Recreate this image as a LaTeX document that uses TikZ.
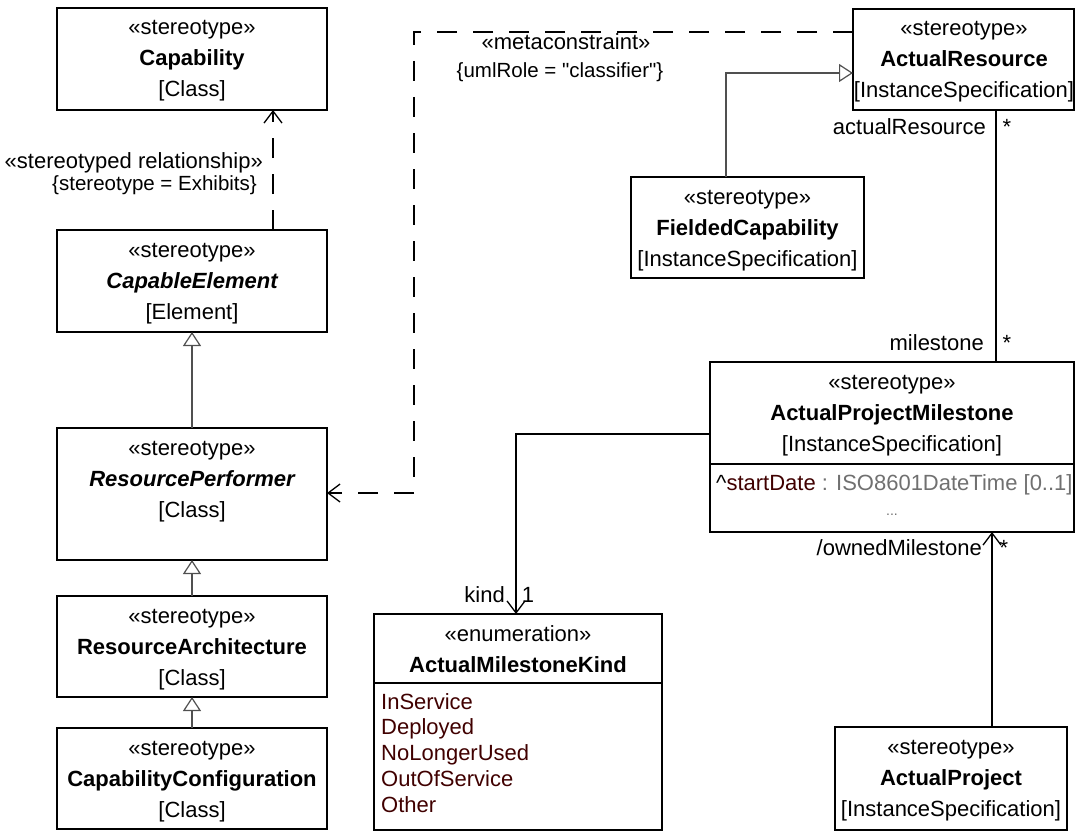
\documentclass[tikz,border=0pt]{standalone}
\usepackage{fontspec}
\setmainfont{Liberation Sans}
\usetikzlibrary{arrows.meta}
\definecolor{attr}{HTML}{400000}
\definecolor{typ}{HTML}{707070}
\definecolor{gen}{HTML}{505050}
\tikzset{
  umlbox/.style={draw=black, line width=1.6pt, anchor=north west, inner sep=0pt, outer sep=0pt},
  txt/.style={inner sep=0pt, anchor=base, font=\fontsize{22}{26}\selectfont},
  txtl/.style={inner sep=0pt, anchor=base west, font=\fontsize{22}{26}\selectfont},
  txtr/.style={inner sep=0pt, anchor=base east, font=\fontsize{22}{26}\selectfont},
  lbl/.style={inner sep=0pt, font=\fontsize{20.5}{24}\selectfont},
  genline/.style={draw=gen, line width=1.3pt, -{Triangle[open, length=14pt, width=18pt, line width=1.2pt]}},
  assoc/.style={draw=black, line width=1.3pt},
  navarrow/.style={draw=black, line width=1.3pt, -{Straight Barb[length=12pt, width=18pt, line width=1.3pt]}},
  depline/.style={draw=black, line width=1.3pt, dash pattern=on 20pt off 16pt, -{Straight Barb[length=12pt, width=18pt, line width=1.3pt]}}
}
\begin{document}
\begin{tikzpicture}[x=1pt,y=-1pt]
\useasboundingbox (0,0) rectangle (1075,832);

% ---------- boxes ----------
\node[umlbox, minimum width=270pt, minimum height=102pt] (cap) at (57,8) {};
\node[txt] (capS) at (192,35) {«stereotype»};
\node[txt] (capN) at (192,66) {\bfseries Capability};
\node[txt] (capT) at (192,97) {[Class]};

\node[umlbox, minimum width=270pt, minimum height=102pt] (ce) at (57,230) {};
\node[txt] (ceS) at (192,257) {«stereotype»};
\node[txt] (ceN) at (192,288) {\bfseries\itshape CapableElement};
\node[txt] (ceT) at (192,319) {[Element]};

\node[umlbox, minimum width=270pt, minimum height=132pt] (rp) at (57,428) {};
\node[txt] (rpS) at (192,455) {«stereotype»};
\node[txt] (rpN) at (192,486) {\bfseries\itshape ResourcePerformer};
\node[txt] (rpT) at (192,517) {[Class]};

\node[umlbox, minimum width=270pt, minimum height=101pt] (ra) at (57,596) {};
\node[txt] (raS) at (192,623) {«stereotype»};
\node[txt] (raN) at (192,654) {\bfseries ResourceArchitecture};
\node[txt] (raT) at (192,685) {[Class]};

\node[umlbox, minimum width=270pt, minimum height=101pt] (cc) at (57,728) {};
\node[txt] (ccS) at (192,755) {«stereotype»};
\node[txt] (ccN) at (192,786) {\bfseries CapabilityConfiguration};
\node[txt] (ccT) at (192,817) {[Class]};

\node[umlbox, minimum width=221pt, minimum height=101pt] (ar) at (853,9) {};
\node[txt] (arS) at (964,36) {«stereotype»};
\node[txt] (arN) at (964,67) {\bfseries ActualResource};
\node[txt] (arT) at (964,98) {[InstanceSpecification]};

\node[umlbox, minimum width=233pt, minimum height=101pt] (fc) at (631,177) {};
\node[txt] (fcS) at (747.5,204) {«stereotype»};
\node[txt] (fcN) at (747.5,235) {\bfseries FieldedCapability};
\node[txt] (fcT) at (747.5,266) {[InstanceSpecification]};

\node[umlbox, minimum width=364pt, minimum height=170pt] (apm) at (710,362) {};
\draw[line width=1.6pt] (710,464) -- (1074,464);
\node[txt] (apmS) at (892,389) {«stereotype»};
\node[txt] (apmN) at (892,420) {\bfseries ActualProjectMilestone};
\node[txt] (apmT) at (892,451) {[InstanceSpecification]};
\node[txtl] (apmA) at (716,490) {\textasciicircum\textcolor{attr}{startDate} \textcolor{typ}{: ISO8601DateTime [0..1]}};
\node[txt, text=typ] (apmD) at (892,515) {\fontsize{14}{16}\selectfont ...};

\node[umlbox, minimum width=288pt, minimum height=216pt] (amk) at (374,614) {};
\draw[line width=1.6pt] (374,683) -- (662,683);
\node[txt] (amkS) at (518,641) {«enumeration»};
\node[txt] (amkN) at (518,672) {\bfseries ActualMilestoneKind};
\node[txtl, text=attr] (amk1) at (381,709) {InService};
\node[txtl, text=attr] (amk2) at (381,734) {Deployed};
\node[txtl, text=attr] (amk3) at (381,760) {NoLongerUsed};
\node[txtl, text=attr] (amk4) at (381,786) {OutOfService};
\node[txtl, text=attr] (amk5) at (381,812) {Other};

\node[umlbox, minimum width=232pt, minimum height=103pt] (ap) at (835,727) {};
\node[txt] (apS) at (951,754) {«stereotype»};
\node[txt] (apN) at (951,785) {\bfseries ActualProject};
\node[txt] (apT) at (951,816) {[InstanceSpecification]};

% ---------- connectors ----------
% generalizations
\draw[genline] (rp.north -| 192,0) -- (ce.south -| 192,0);
\draw[genline] (ra.north -| 192,0) -- (rp.south -| 192,0);
\draw[genline] (cc.north -| 192,0) -- (ra.south -| 192,0);
\draw[genline] (fc.north -| 726,0) -- (726,73) -- (ar.west |- 0,73);

% exhibits dependency
\draw[depline] (ce.north -| 273,0) -- (cap.south -| 273,0);
\node[txtr] (exL1) at (263,168) {«stereotyped relationship»};
\node[lbl, anchor=base east] (exL2) at (257,190) {\{stereotype = Exhibits\}};

% metaconstraint
\coordinate (mc1) at (414,32);
\coordinate (mc2) at (414,493);
\draw[depline] (ar.west |- 0,32) -- (mc1) -- (mc2) -- (rp.east |- mc2);
\node[txt] (mcL1) at (566,50) {«metaconstraint»};
\node[lbl, anchor=base] (mcL2) at (560,78) {\{umlRole = \textquotedbl classifier\textquotedbl\}};

% associations
\draw[assoc] (ar.south -| 996,0) -- (apm.north -| 996,0);
\node[txtr] (l1) at (986,135) {actualResource};
\node[txt] (l1m) at (1007,135) {*};
\node[txtr] (l2) at (984,350) {milestone};
\node[txt] (l2m) at (1007,350) {*};

\coordinate (k1) at (516,434);
\draw[navarrow] (apm.west |- k1) -- (k1) -- (amk.north -| k1);
\node[txtr] (l3) at (505,602) {kind};
\node[txt] (l3m) at (528,602) {1};

\draw[navarrow] (ap.north -| 992,0) -- (apm.south -| 992,0);
\node[txtr] (l4) at (982,555) {/ownedMilestone};
\node[txt] (l4m) at (1004,555) {*};
\end{tikzpicture}
\end{document}
